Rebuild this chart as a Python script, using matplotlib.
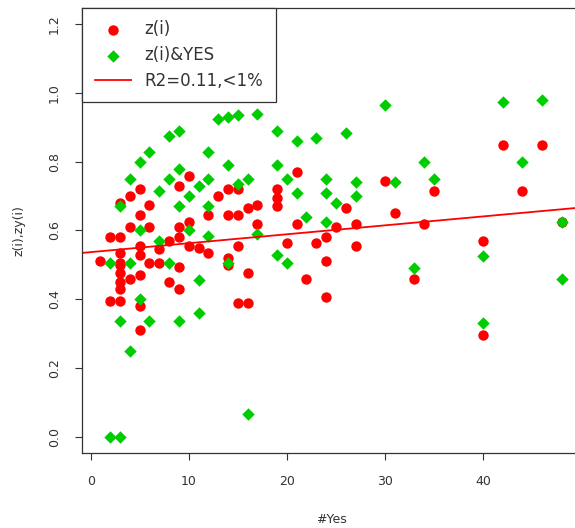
import numpy as np
import matplotlib.pyplot as plt

# z(i): red points (x = #Yes)
red_x = [1, 2, 2, 3, 3, 3, 3, 3, 3, 3, 3, 3, 4, 4, 4, 5, 5, 5, 5, 5, 5, 5,
         6, 6, 6, 7, 7, 8, 8, 9, 9, 9, 9, 9, 10, 10, 10, 11, 12, 12, 13,
         14, 14, 14, 14, 15, 15, 15, 15, 16, 16, 16, 17, 17, 19, 19, 19,
         20, 21, 21, 22, 23, 24, 24, 24, 25, 26, 27, 27, 30, 31, 33, 34,
         35, 40, 40, 42, 44, 46, 48]
red_y = [0.51, 0.58, 0.395, 0.68, 0.58, 0.535, 0.505, 0.50, 0.475, 0.45, 0.43, 0.395,
         0.70, 0.61, 0.46, 0.72, 0.645, 0.555, 0.53, 0.47, 0.38, 0.31,
         0.675, 0.61, 0.505, 0.545, 0.505, 0.57, 0.45, 0.73, 0.61, 0.58, 0.495, 0.43,
         0.76, 0.625, 0.555, 0.55, 0.645, 0.535, 0.70,
         0.72, 0.645, 0.52, 0.50, 0.72, 0.645, 0.555, 0.39, 0.665, 0.475, 0.39,
         0.675, 0.62, 0.72, 0.695, 0.67,
         0.565, 0.77, 0.62, 0.46, 0.565, 0.58, 0.51, 0.405, 0.61, 0.665, 0.62, 0.555,
         0.745, 0.65, 0.46, 0.62, 0.715, 0.57, 0.295, 0.85, 0.715, 0.85, 0.625]

# z(i)&YES: green points
green_x = [2, 2, 3, 3, 3, 4, 4, 4, 5, 5, 5, 6, 6, 7, 7, 8, 8, 8, 9, 9, 9, 9,
           10, 10, 11, 11, 11, 12, 12, 12, 12, 13, 14, 14, 14, 15, 15, 16, 16,
           17, 17, 19, 19, 19, 20, 20, 21, 21, 22, 23, 24, 24, 24, 25, 26, 27,
           27, 30, 31, 33, 34, 35, 40, 40, 42, 44, 46, 48, 48]
green_y = [0.505, 0.0, 0.67, 0.335, 0.0, 0.75, 0.505, 0.25, 0.80, 0.60, 0.40,
           0.83, 0.335, 0.715, 0.57, 0.875, 0.75, 0.505, 0.89, 0.78, 0.67, 0.335,
           0.70, 0.60, 0.73, 0.455, 0.36, 0.83, 0.75, 0.67, 0.585, 0.925,
           0.93, 0.79, 0.505, 0.935, 0.735, 0.75, 0.065, 0.94, 0.59,
           0.89, 0.79, 0.53, 0.75, 0.505, 0.86, 0.71, 0.64, 0.87, 0.75, 0.71, 0.625,
           0.68, 0.885, 0.74, 0.70, 0.965, 0.74, 0.49, 0.80, 0.75, 0.525, 0.33,
           0.975, 0.80, 0.98, 0.625, 0.46]

# fitted line
fit_intercept = 0.537
fit_slope = 0.0026

fig = plt.figure(figsize=(5.75, 5.28), dpi=100)
ax = fig.add_axes([82 / 575, 1 - 453 / 528, 498 / 575, 445 / 528])

ax.scatter(red_x, red_y, s=56, c='#ff0000', marker='o', linewidths=0, label='z(i)')
ax.scatter(green_x, green_y, s=40, c='#00cd00', marker='D', linewidths=0, label='z(i)&YES')
ax.axline((0, fit_intercept), slope=fit_slope, color='#ff0000', lw=1.3, label='R2=0.11,<1%')

ax.set_xlim(-0.88, 49.88)
ax.set_ylim(-0.048, 1.248)
ax.set_xticks([0, 10, 20, 30, 40])
ax.set_yticks([0.0, 0.2, 0.4, 0.6, 0.8, 1.0, 1.2])
ax.set_yticklabels(['0.0', '0.2', '0.4', '0.6', '0.8', '1.0', '1.2'])
ax.tick_params(axis='both', labelsize=9, length=5, width=0.8, color='#333333', labelcolor='#333333')
ax.tick_params(axis='x', pad=11)
ax.tick_params(axis='y', pad=10)
plt.setp(ax.get_yticklabels(), rotation=90, va='center')
for sp in ax.spines.values():
    sp.set_color('#333333')
    sp.set_linewidth(0.9)

ax.set_xlabel('#Yes', fontsize=9, color='#333333', labelpad=18)
ax.set_ylabel('z(i),zy(i)', fontsize=9, color='#333333', labelpad=16)

leg = ax.legend(loc='upper left', bbox_to_anchor=(0, 1), borderaxespad=0, fontsize=12,
                fancybox=False, framealpha=1, edgecolor='#333333', handlelength=2.2,
                handletextpad=0.8, borderpad=0.75, labelspacing=0.45, scatterpoints=1)
leg.get_frame().set_linewidth(0.9)
for t in leg.get_texts():
    t.set_color('#333333')

fig.savefig('out.png', dpi=100)
